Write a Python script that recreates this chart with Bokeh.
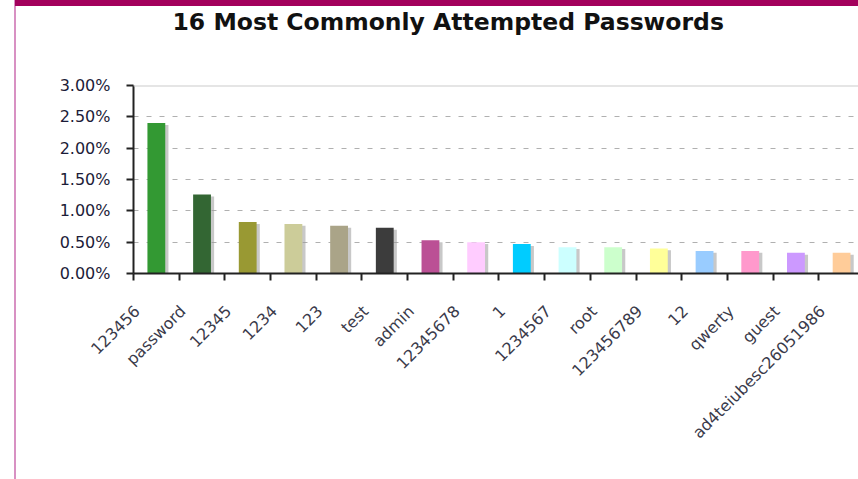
import math
from bokeh.plotting import figure
from bokeh.models import FixedTicker, PrintfTickFormatter, Span, Range1d, ColumnDataSource, Title
from bokeh.embed import file_html
from bokeh.resources import INLINE

passwords = ["123456", "password", "12345", "1234", "123", "test", "admin",
             "12345678", "1", "1234567", "root", "123456789", "12", "qwerty",
             "guest", "ad4teiubesc26051986"]
shares = [2.40, 1.26, 0.82, 0.79, 0.76, 0.73, 0.53, 0.50, 0.47, 0.42, 0.42,
          0.40, 0.36, 0.36, 0.33, 0.33]
colors = ["#339933", "#336633", "#999933", "#cccc99", "#aaa488", "#3c3c3c",
          "#bb5095", "#ffccff", "#00ccff", "#ccffff", "#ccffcc", "#ffff99",
          "#99ccff", "#ff99cc", "#cc99ff", "#ffcc99"]
y_ticks = [0, 0.5, 1.0, 1.5, 2.0, 2.5, 3.0]

n = len(passwords)
centers = [i + 0.5 for i in range(n)]
label_pos = [c - 0.42 for c in centers]
src = ColumnDataSource(dict(
    x=centers, top=shares, color=colors,
    xs=[c + 0.07 for c in centers], tops=[s - 0.03 for s in shares],
))

p = figure(width=858, height=479, x_range=Range1d(0, 15.87), y_range=Range1d(0, 3.0),
           output_backend="svg", toolbar_location=None,
           min_border_left=133, min_border_right=0, min_border_top=85, min_border_bottom=206)
p.frame_width = 725
p.frame_height = 188
p.border_fill_color = None
p.styles = {"background": (
    "linear-gradient(#a3005c, #a3005c) 15px 0 / calc(100% - 15px) 6px no-repeat, "
    "linear-gradient(to right, #ffffff 14px, #d891c3 14px, #d891c3 16px, #ffffff 16px)")}
p.outline_line_color = None

# spacer between the title and the frame
p.add_layout(Title(text=" ", text_font_size="1px", standoff=47), "above")

p.title.text = "16 Most Commonly Attempted Passwords"
p.title.align = "left"
p.title.offset = 39
p.title.standoff = 0
p.title.text_font = "DejaVu Sans"
p.title.text_font_style = "bold"
p.title.text_font_size = "23.5px"
p.title.text_color = "#111111"

# shadows then bars
p.vbar(x="xs", top="tops", width=0.39, source=src, fill_color="#9a9a9a",
       fill_alpha=0.55, line_color=None)
p.vbar(x="x", top="top", width=0.39, source=src, fill_color="color", line_color=None)

# y axis
p.yaxis.ticker = FixedTicker(ticks=y_ticks)
p.yaxis.formatter = PrintfTickFormatter(format="%.2f%%")
p.yaxis.major_tick_out = 7
p.yaxis.major_tick_in = 0
p.yaxis.minor_tick_line_color = None
p.yaxis.major_tick_line_width = 2
p.yaxis.major_tick_line_color = "#222222"
p.yaxis.axis_line_width = 2
p.yaxis.axis_line_color = "#222222"
p.yaxis.major_label_text_font = "DejaVu Sans"
p.yaxis.major_label_text_font_size = "16px"
p.yaxis.major_label_text_color = "#1c1c38"
p.yaxis.major_label_standoff = 16

# x axis
p.xaxis.ticker = FixedTicker(ticks=label_pos, minor_ticks=list(range(n + 1)))
p.xaxis.major_label_overrides = {float(c): name for c, name in zip(label_pos, passwords)}
p.xaxis.major_tick_line_color = None
p.xaxis.minor_tick_out = 7
p.xaxis.minor_tick_in = 0
p.xaxis.minor_tick_line_width = 2
p.xaxis.minor_tick_line_color = "#222222"
p.xaxis.axis_line_width = 2
p.xaxis.axis_line_color = "#222222"
p.xaxis.major_label_standoff = 28
p.xaxis.major_label_orientation = math.pi / 4
p.xaxis.major_label_text_font = "DejaVu Sans"
p.xaxis.major_label_text_font_size = "16px"
p.xaxis.major_label_text_color = "#3a3a4a"

# grid
p.xgrid.visible = False
p.ygrid.ticker = FixedTicker(ticks=[0.5, 1.0, 1.5, 2.0, 2.5])
p.ygrid.grid_line_color = "#b0b0b0"
p.ygrid.grid_line_dash = "5 8"
p.add_layout(Span(location=3.0, dimension="width", line_color="#cccccc", line_width=2))

open("out.html", "w").write(file_html(p, INLINE))
